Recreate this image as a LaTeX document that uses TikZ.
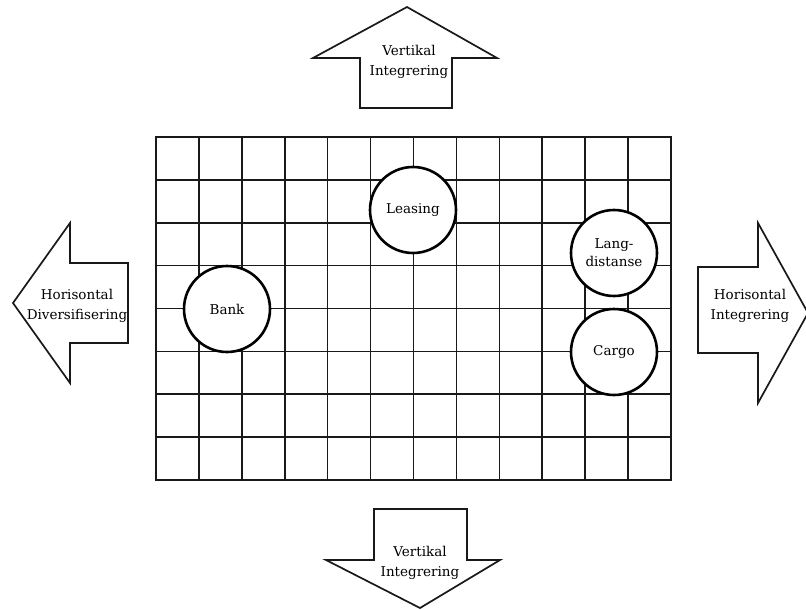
\documentclass[tikz,border=0pt]{standalone}
\usepackage{fontspec}
\setmainfont{DejaVu Serif}
\begin{document}
\begin{tikzpicture}[x=1pt,y=-1pt,
  gridline/.style={line width=1.6pt, black!90},
  arrowshape/.style={line width=1.7pt, black!90, fill=white, line join=miter},
  bubble/.style={circle, draw=black, line width=2.6pt, fill=white, minimum size=86pt, inner sep=0pt, font=\fontsize{13.5}{18}\selectfont, align=center},
  arrowtext/.style={font=\fontsize{13.5}{19.5}\selectfont, align=center, inner sep=0pt}]
\useasboundingbox (0,0) rectangle (806,610);
% grid
\foreach \i in {0,...,12} {
  \draw[gridline] ({156+\i*515/12},137) -- ({156+\i*515/12},480);
}
\foreach \j in {0,...,8} {
  \draw[gridline] (156,{137+\j*343/8}) -- (671,{137+\j*343/8});
}
\draw[line width=1.8pt, black!90] (156,137) rectangle (671,480);
% arrows
\draw[arrowshape] (407,7) -- (497,58) -- (452,58) -- (452,108) -- (360,108) -- (360,58) -- (313,58) -- cycle;
\draw[arrowshape] (374,509) -- (467,509) -- (467,560) -- (500,560) -- (420,608) -- (326,560) -- (374,560) -- cycle;
\draw[arrowshape] (13,303) -- (70,223) -- (70,263) -- (128,263) -- (128,343) -- (70,343) -- (70,383) -- cycle;
\draw[arrowshape] (698,267) -- (758,267) -- (758,223) -- (808,313) -- (758,403) -- (758,353) -- (698,353) -- cycle;
% arrow texts
\node[arrowtext] (top) at (409,62) {Vertikal\\Integrering};
\node[arrowtext] (bottom) at (420,563) {Vertikal\\Integrering};
\node[arrowtext] (left) at (77,306) {Horisontal\\Diversifisering};
\node[arrowtext] (right) at (750,306) {Horisontal\\Integrering};
% circles
\node[bubble] (leasing) at (413,210) {Leasing};
\node[bubble] (bank) at (227,309) {Bank};
\node[bubble] (lang) at (614,253) {Lang-\\distanse};
\node[bubble] (cargo) at (614,352) {Cargo};
\end{tikzpicture}
\end{document}
